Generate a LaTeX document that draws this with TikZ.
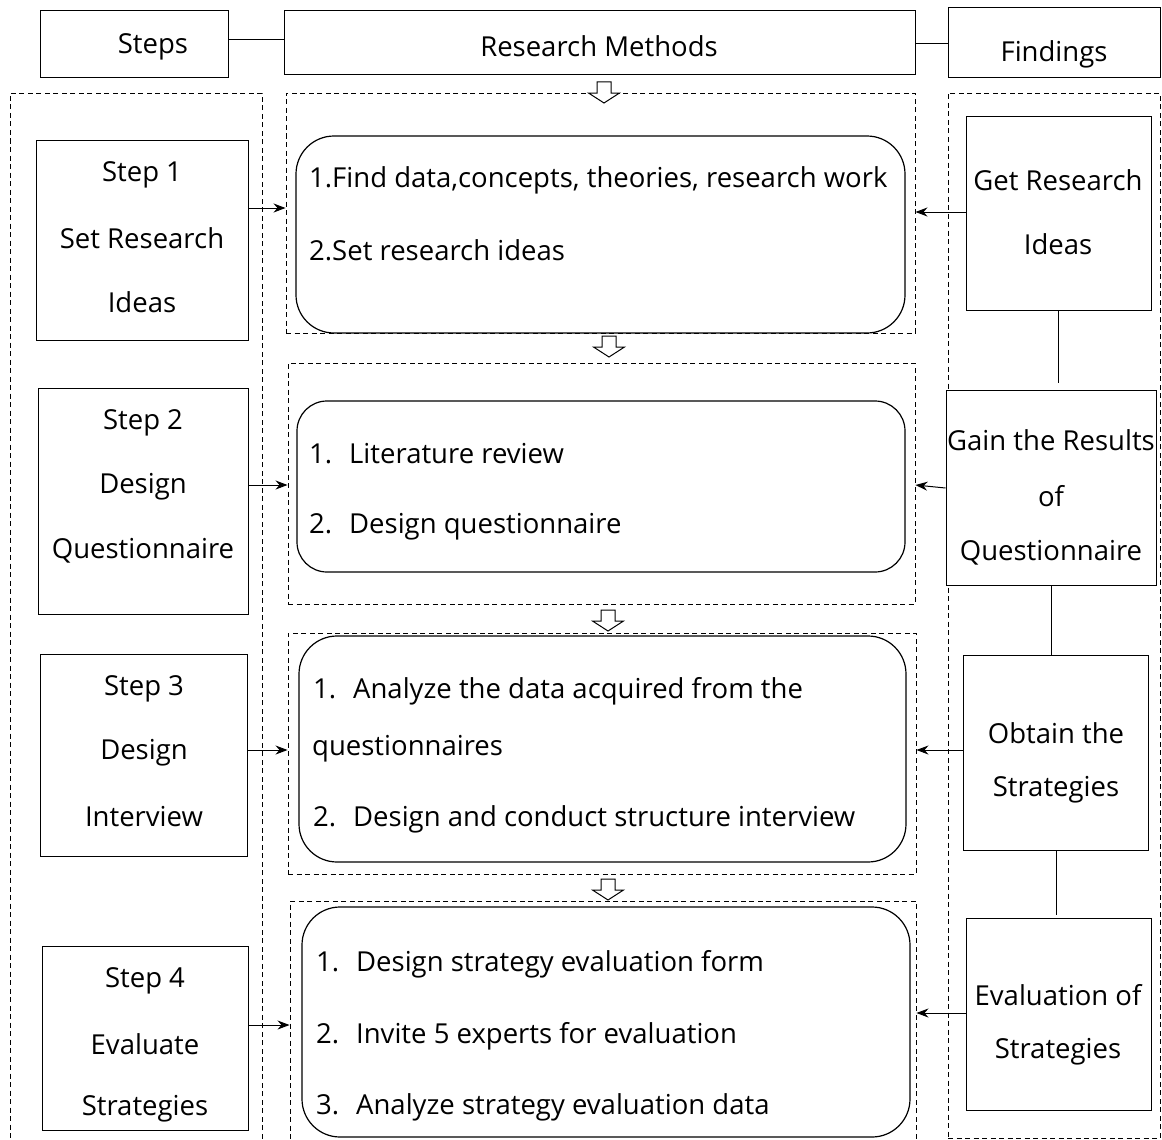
\documentclass[tikz,border=0pt]{standalone}
\usepackage{fontspec}
\setmainfont{Open Sans}
\usetikzlibrary{arrows.meta,fit}
\begin{document}
\begin{tikzpicture}[x=1pt,y=-1pt,
 box/.style={draw,line width=1pt,inner sep=0pt},
 dbox/.style={draw,line width=0.9pt,dash pattern=on 5pt off 3.5pt,inner sep=0pt},
 rbox/.style={draw,line width=1.2pt,rounded corners=38pt,inner sep=0pt},
 txt/.style={font=\fontsize{27.5}{32}\selectfont,inner sep=0pt,yshift=-2.5pt},
 ltxt/.style={txt,anchor=west},
 arr/.style={-{Stealth[length=12pt,width=9pt]},line width=1pt},
 conn/.style={line width=1pt},
 downarr/.pic={\draw[line width=1pt,fill=white] (-7,-11)--(7,-11)--(7,0)--(15.5,0)--(0,10)--(-15.5,0)--(-7,0)--cycle;}]
\useasboundingbox (0,0) rectangle (1162,1140);
% header
\node[box,fit={(40,11)(228,78)}] (hs) {};
\node[box,fit={(284,11)(915,75)}] (hm) {};
\node[box,fit={(948,8)(1160,78)}] (hf) {};
\node[txt] (hst) at (153,44) {Steps};
\node[txt] (hmt) at (599,44) {Research Methods};
\node[txt] (hft) at (1054,52) {Findings};
\draw[conn] (hs.east |- 0,40) -- (hm.west |- 0,40);
\draw[conn] (hm.east |- 0,44) -- (hf.west |- 0,44);
% dashed columns
\node[dbox,fit={(10,93)(262,1150)}] (cl) {};
\node[dbox,fit={(948,93)(1160,1138)}] (cr) {};
\node[dbox,fit={(286,93)(915,333)}] (d1) {};
\node[dbox,fit={(288,363)(915,604)}] (d2) {};
\node[dbox,fit={(288,633)(916,874)}] (d3) {};
\node[dbox,fit={(290,901)(916,1150)}] (d4) {};
% rounded boxes
\node[rbox,fit={(296,136)(905,333)}] (r1) {};
\node[rbox,rounded corners=30pt,fit={(297,401)(905,572)}] (r2) {};
\node[rbox,fit={(299,636)(906,862)}] (r3) {};
\node[rbox,fit={(302,907)(910,1137)}] (r4) {};
% block arrows
\pic at (604,93) {downarr};
\pic at (609,347) {downarr};
\pic at (608,621) {downarr};
\pic at (608,890) {downarr};
% method texts
\node[ltxt] (m11) at (309,178) {1.Find data,concepts, theories, research work};
\node[ltxt] (m12) at (309,248) {2.Set research ideas};
\node[ltxt] (m21) at (309,451) {\makebox[40pt][l]{1.}Literature review};
\node[ltxt] (m22) at (309,524) {\makebox[40pt][l]{2.}Design questionnaire};
\node[ltxt] (m31) at (313,689) {\makebox[40pt][l]{1.}Analyze the data acquired from the};
\node[ltxt] (m32) at (312,746) {questionnaires};
\node[ltxt] (m33) at (313,817) {\makebox[40pt][l]{2.}Design and conduct structure interview};
\node[ltxt] (m41) at (316,962) {\makebox[40pt][l]{1.}Design strategy evaluation form};
\node[ltxt] (m42) at (316,1034) {\makebox[40pt][l]{2.}Invite 5 experts for evaluation};
\node[ltxt] (m43) at (316,1105) {\makebox[40pt][l]{3.}Analyze strategy evaluation data};
% step boxes
\node[box,fit={(36,140)(248,340)}] (s1) {};
\node[box,fit={(38,388)(248,614)}] (s2) {};
\node[box,fit={(40,654)(247,856)}] (s3) {};
\node[box,fit={(42,946)(248,1130)}] (s4) {};
\node[txt] (s1a) at (142,172) {Step 1};
\node[txt] (s1b) at (142,236) {Set Research};
\node[txt] (s1c) at (142,300) {Ideas};
\node[txt] (s2a) at (143,420) {Step 2};
\node[txt] (s2b) at (143,484) {Design};
\node[txt] (s2c) at (143,548) {Questionnaire};
\node[txt] (s3a) at (144,686) {Step 3};
\node[txt] (s3b) at (144,750) {Design};
\node[txt] (s3c) at (144,814) {Interview};
\node[txt] (s4a) at (145,978) {Step 4};
\node[txt] (s4b) at (145,1042) {Evaluate};
\node[txt] (s4c) at (145,1106) {Strategies};
% findings boxes
\node[box,fill=white,fit={(966,116)(1151,310)}] (f1) {};
\node[box,fill=white,fit={(946,390)(1156,585)}] (f2) {};
\node[box,fill=white,fit={(963,655)(1148,850)}] (f3) {};
\node[box,fill=white,fit={(966,918)(1151,1110)}] (f4) {};
\node[txt] (f1a) at (1058,178) {Get Research};
\node[txt] (f1b) at (1058,242) {Ideas};
\node[txt] (f2a) at (1051,438) {Gain the Results};
\node[txt] (f2b) at (1051,494) {of};
\node[txt] (f2c) at (1051,550) {Questionnaire};
\node[txt] (f3a) at (1056,731) {Obtain the};
\node[txt] (f3b) at (1056,787) {Strategies};
\node[txt] (f4a) at (1058,993) {Evaluation of};
\node[txt] (f4b) at (1058,1049) {Strategies};
\draw[conn] (f1.south -| 1058,0) -- (1058,383);
\draw[conn] (f2.south -| 1051,0) -- (f3.north -| 1051,0);
\draw[conn] (f3.south -| 1056,0) -- (1056,915);
% arrows
\draw[arr] (s1.east |- 0,208) -- (d1.west |- 0,208);
\draw[arr] (s2.east |- 0,485) -- (d2.west |- 0,485);
\draw[arr] (s3.east |- 0,750) -- (d3.west |- 0,750);
\draw[arr] (s4.east |- 0,1025) -- (d4.west |- 0,1025);
\draw[arr] (f1.west |- 0,212) -- (d1.east |- 0,212);
\draw[arr] (f2.west |- 0,488) -- (d2.east |- 0,485);
\draw[arr] (f3.west |- 0,750) -- (d3.east |- 0,750);
\draw[arr] (f4.west |- 0,1013) -- (d4.east |- 0,1013);
\end{tikzpicture}
\end{document}
